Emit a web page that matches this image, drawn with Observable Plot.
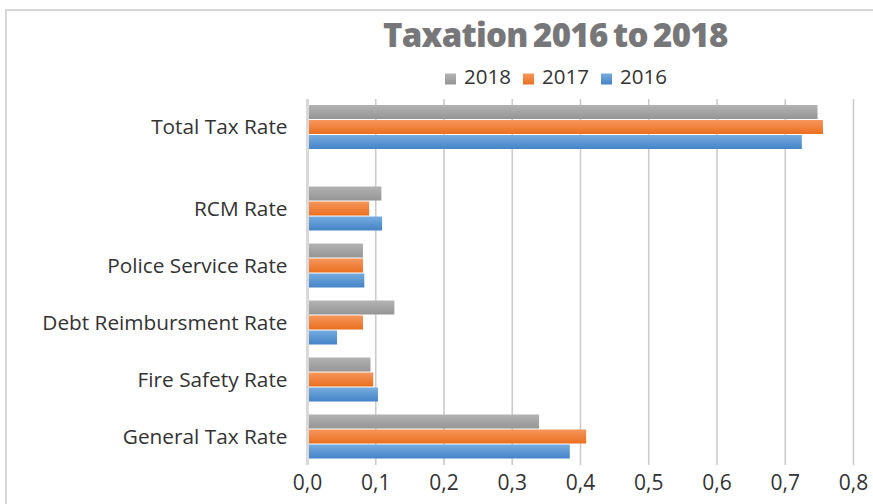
<!DOCTYPE html>
<html>
<head>
<meta charset="utf-8">
<script src="https://cdn.jsdelivr.net/npm/d3@7"></script>
<script src="https://cdn.jsdelivr.net/npm/@observablehq/plot@0.6"></script>
<style>
  html, body { margin: 0; padding: 0; background: #ffffff; overflow: hidden; width: 873px; height: 504px; }
  #wrap { position: relative; width: 873px; height: 504px; font-family: "Open Sans", sans-serif; }
  #frame { position: absolute; left: 5px; top: 9px; width: 2000px; height: 2000px;
           border-top: 2px solid #d6d6d6; border-left: 2px solid #d6d6d6; pointer-events: none; z-index: 5; }
  #header { display: block; }
  #chart svg { display: block; }
</style>
</head>
<body>
<div id="wrap">
  <div id="frame"></div>
  <svg id="header" width="873" height="95" xmlns="http://www.w3.org/2000/svg"></svg>
  <div id="chart"></div>
</div>
<script>
// ---- data ----
const title = "Taxation 2016 to 2018";
const categories = ["General Tax Rate", "Fire Safety Rate", "Debt Reimbursment Rate", "Police Service Rate", "RCM Rate", "Total Tax Rate"];
const years = ["2018", "2017", "2016"];
const values2018 = [0.340, 0.093, 0.128, 0.082, 0.109, 0.748];
const values2017 = [0.409, 0.097, 0.082, 0.082, 0.091, 0.756];
const values2016 = [0.385, 0.104, 0.044, 0.084, 0.110, 0.725];
const xTicks = [0, 0.1, 0.2, 0.3, 0.4, 0.5, 0.6, 0.7, 0.8];

// ---- styles ----
const gradients = {
  "2018": ["#b3b3b3", "#959595"],
  "2017": ["#f5965c", "#eb6f1f"],
  "2016": ["#76acdf", "#4483c7"]
};
const rows = categories.map((c, i) => ({category: c, "2018": values2018[i], "2017": values2017[i], "2016": values2016[i]}));
const totalName = "Total Tax Rate";
const totalShift = -24.5;
const svgNS = "http://www.w3.org/2000/svg";

function addGradients(svg) {
  const defs = document.createElementNS(svgNS, "defs");
  for (const yr of years) {
    const g = document.createElementNS(svgNS, "linearGradient");
    g.setAttribute("id", "grad" + yr);
    g.setAttribute("x1", "0"); g.setAttribute("y1", "0");
    g.setAttribute("x2", "0"); g.setAttribute("y2", "1");
    const [c0, c1] = gradients[yr];
    [[0, c0], [1, c1]].forEach(([o, c]) => {
      const s = document.createElementNS(svgNS, "stop");
      s.setAttribute("offset", o);
      s.setAttribute("stop-color", c);
      g.appendChild(s);
    });
    defs.appendChild(g);
  }
  svg.insertBefore(defs, svg.firstChild);
}

// ---- header: title + legend ----
const header = document.getElementById("header");
addGradients(header);
const t = document.createElementNS(svgNS, "text");
t.setAttribute("x", 555);
t.setAttribute("y", 47);
t.setAttribute("text-anchor", "middle");
t.setAttribute("font-family", "'Open Sans', sans-serif");
t.setAttribute("font-weight", "800");
t.setAttribute("font-size", "33");
t.setAttribute("letter-spacing", "-1.3");
t.setAttribute("word-spacing", "-2.5");
t.setAttribute("fill", "#77777a");
t.setAttribute("textLength", "344");
t.setAttribute("lengthAdjust", "spacing");
t.textContent = title;
header.appendChild(t);

years.forEach((yr, i) => {
  const x0 = 445 + i * 78;
  const r = document.createElementNS(svgNS, "rect");
  r.setAttribute("x", x0); r.setAttribute("y", 73.5);
  r.setAttribute("width", 11); r.setAttribute("height", 11);
  r.setAttribute("fill", `url(#grad${yr})`);
  header.appendChild(r);
  const lt = document.createElementNS(svgNS, "text");
  lt.setAttribute("x", x0 + 19); lt.setAttribute("y", 83.5);
  lt.setAttribute("font-family", "'Open Sans', sans-serif");
  lt.setAttribute("font-size", "20.5");
  lt.setAttribute("fill", "#333333");
  lt.textContent = yr;
  header.appendChild(lt);
});

// ---- chart ----
const fmt = d => d.toFixed(1).replace(".", ",");
function barsFor(filterFn, dy) {
  return years.map((yr, k) => Plot.barX(rows.filter(filterFn), {
    x: d => d[yr],
    y: "category",
    fill: `url(#grad${yr})`,
    insetTop: k * 15,
    insetBottom: (2 - k) * 15,
    dy
  }));
}
const isTotal = d => d.category === totalName;
const notTotal = d => d.category !== totalName;

const plot = Plot.plot({
  width: 873,
  height: 409,
  marginLeft: 307,
  marginRight: 20,
  marginTop: 4,
  marginBottom: 39,
  style: {fontFamily: "'Open Sans', sans-serif", background: "transparent", overflow: "visible"},
  x: {domain: [0, 0.8], axis: null},
  y: {domain: categories.slice().reverse(), range: [28, 370], paddingInner: 0.228, paddingOuter: 0.114, round: false, axis: null},
  marks: [
    Plot.ruleX(xTicks.slice(1), {stroke: "#cbcbcb", strokeWidth: 1.6}),
    ...barsFor(notTotal, 0),
    ...barsFor(isTotal, totalShift),
    Plot.ruleX([0], {stroke: "#d9d9d9", strokeWidth: 3}),
    Plot.text(categories.filter(c => c !== totalName), {
      y: d => d, text: d => d, frameAnchor: "left", textAnchor: "end", dx: -20,
      fontSize: 20.8, fill: "#333333"
    }),
    Plot.text([totalName], {
      y: d => d, text: d => d, frameAnchor: "left", textAnchor: "end", dx: -20, dy: totalShift,
      fontSize: 20.8, fill: "#333333"
    }),
    Plot.text(xTicks, {
      x: d => d, text: fmt, frameAnchor: "bottom", lineAnchor: "top", dy: 10,
      fontSize: 21, fill: "#333333"
    })
  ]
});
addGradients(plot);
document.getElementById("chart").appendChild(plot);
</script>
</body>
</html>
